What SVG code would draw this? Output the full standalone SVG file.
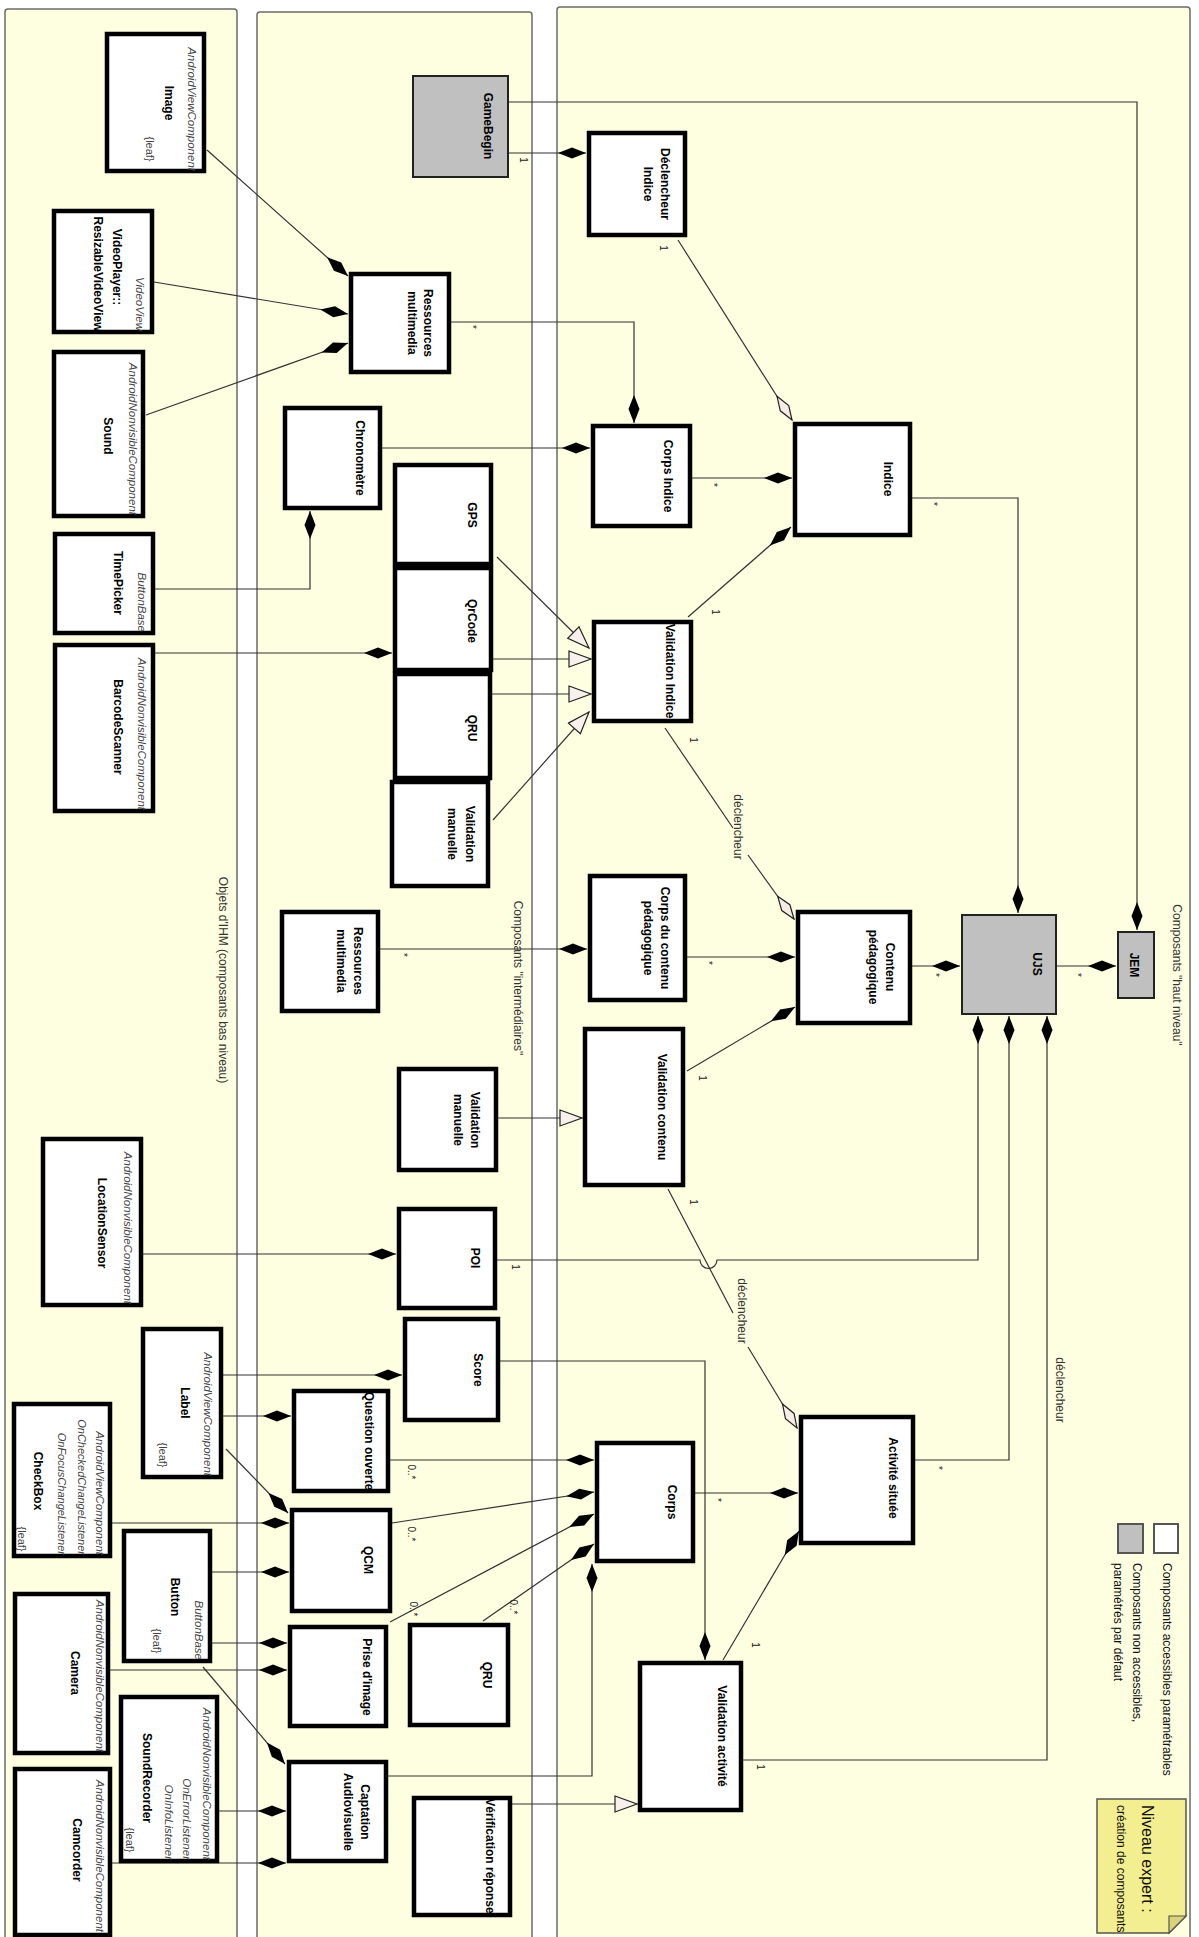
<svg xmlns="http://www.w3.org/2000/svg" width="1199" height="1937" viewBox="0 0 1199 1937">
<style>
.panel{fill:#fefee0;stroke:#6b6b6b;stroke-width:1.5}
.n{fill:#fff;stroke:#000;stroke-width:4.5}
.g{fill:#c0c0c0;stroke:#222;stroke-width:2}
text{font-family:"Liberation Sans",Arial,sans-serif;dominant-baseline:central}
.t{font-size:12px;font-weight:bold;fill:#000;text-anchor:middle}
.st{font-size:11.5px;font-style:italic;fill:#444;text-anchor:end}
.lf{font-size:11px;fill:#444;text-anchor:middle}
.m{font-size:10px;fill:#222;text-anchor:middle}
.pt{font-size:12px;fill:#333;text-anchor:middle}
.lg{font-size:12px;fill:#111;text-anchor:start}
.c{fill:none;stroke:#333;stroke-width:1.2}
.df{marker-end:url(#dF)}
.do{marker-end:url(#dO)}
.tr{marker-end:url(#tri)}
</style>
<defs>
<marker id="dF" viewBox="0 0 28 12" markerWidth="28" markerHeight="12" refX="28" refY="6" orient="auto" markerUnits="userSpaceOnUse"><path d="M0,6 L14,0.5 L28,6 L14,11.5 Z" fill="#000"/></marker>
<marker id="dO" viewBox="-1 -1 30 14" markerWidth="30" markerHeight="14" refX="28" refY="6" orient="auto" markerUnits="userSpaceOnUse"><path d="M0,6 L14,1 L28,6 L14,11 Z" fill="#f6ece6" stroke="#222" stroke-width="1.2"/></marker>
<marker id="tri" viewBox="-1 -1 25 19" markerWidth="25" markerHeight="19" refX="22" refY="8" orient="auto" markerUnits="userSpaceOnUse"><path d="M0,0 L22,8 L0,16 Z" fill="#f8f0ea" stroke="#222" stroke-width="1.2"/></marker>
</defs>
<rect width="1199" height="1937" fill="#fff"/>
<g id="panels">
<rect class="panel" x="5" y="9" width="232" height="1940" rx="3"/>
<rect class="panel" x="257" y="12" width="275" height="1940" rx="3"/>
<rect class="panel" x="557" y="7" width="633" height="1940" rx="3"/>
<text class="pt" transform="translate(223,980) rotate(90)">Objets d'IHM (composants bas niveau)</text>
<text class="pt" transform="translate(518,978) rotate(90)">Composants "intermédiaires"</text>
<text class="pt" transform="translate(1177,975) rotate(90)">Composants "haut niveau"</text>
</g>
<g id="connectors">
<path class="c df" d="M207,150 L348,276"/>
<path class="c df" d="M154,282 L348,314"/>
<path class="c df" d="M146,415 L348,343"/>
<path class="c df" d="M451,322 H634 V423"/>
<path class="c df" d="M509,153 H586"/>
<path class="c df" d="M509,102 H1137 V930"/>
<path class="c do" d="M678,240 L792,420"/>
<path class="c df" d="M692,478 H792"/>
<path class="c df" d="M382,448 H590"/>
<path class="c df" d="M155,589 H310 V511"/>
<path class="c df" d="M155,653 H392"/>
<path class="c tr" d="M497,557 L589,648"/>
<path class="c tr" d="M492,659 H591"/>
<path class="c tr" d="M492,694 H591"/>
<path class="c tr" d="M493,820 L589,712"/>
<path class="c df" d="M688,617 L791,527"/>
<path class="c" d="M665,728 L733,828"/>
<path class="c do" d="M748,855 L794,919"/>
<path class="c df" d="M687,957 H795"/>
<path class="c df" d="M380,949 H587"/>
<path class="c df" d="M912,966 H960"/>
<path class="c df" d="M1057,966 H1116"/>
<path class="c df" d="M912,498 H1018 V913"/>
<path class="c tr" d="M498,1118 H582"/>
<path class="c df" d="M687,1071 L795,1007"/>
<path class="c" d="M668,1189 L733,1313"/>
<path class="c do" d="M748,1347 L797,1428"/>
<path class="c df" d="M497,1260 H700 A8.5,8.5 0 0 0 717,1260 H978 V1016"/>
<path class="c df" d="M915,1460 H1009 V1016"/>
<path class="c df" d="M743,1760 H1047 V1016"/>
<path class="c df" d="M143,1254 H396"/>
<path class="c df" d="M223,1375 H402"/>
<path class="c df" d="M223,1416 H291"/>
<path class="c df" d="M226,1449 L288,1513"/>
<path class="c df" d="M112,1523 H289"/>
<path class="c df" d="M212,1572 H289"/>
<path class="c df" d="M212,1643 H287"/>
<path class="c df" d="M110,1670 H287"/>
<path class="c df" d="M203,1667 L285,1764"/>
<path class="c df" d="M219,1811 H286"/>
<path class="c df" d="M112,1863 H286"/>
<path class="c df" d="M390,1460 H594"/>
<path class="c df" d="M392,1523 L594,1492"/>
<path class="c df" d="M390,1622 L594,1514"/>
<path class="c df" d="M483,1621 L594,1544"/>
<path class="c df" d="M500,1361 H705 V1660"/>
<path class="c df" d="M388,1776 H592 V1564"/>
<path class="c df" d="M695,1493 H798"/>
<path class="c df" d="M723,1660 L799,1531"/>
<path class="c tr" d="M512,1804 H637"/>
<text class="m" transform="translate(523,160) rotate(90)">1</text>
<text class="m" transform="translate(472,327) rotate(90)">*</text>
<text class="m" transform="translate(663,248) rotate(90)">1</text>
<text class="m" transform="translate(713,485) rotate(90)">*</text>
<text class="m" transform="translate(933,504) rotate(90)">*</text>
<text class="m" transform="translate(715,612) rotate(90)">1</text>
<text class="m" transform="translate(693,740) rotate(90)">1</text>
<text class="pt" transform="translate(738,827) rotate(90)">déclencheur</text>
<text class="m" transform="translate(708,963) rotate(90)">*</text>
<text class="m" transform="translate(403,955) rotate(90)">*</text>
<text class="m" transform="translate(935,975) rotate(90)">*</text>
<text class="m" transform="translate(1077,975) rotate(90)">*</text>
<text class="m" transform="translate(702,1078) rotate(90)">1</text>
<text class="m" transform="translate(693,1202) rotate(90)">1</text>
<text class="pt" transform="translate(742,1311) rotate(90)">déclencheur</text>
<text class="m" transform="translate(515,1267) rotate(90)">1</text>
<text class="m" transform="translate(938,1468) rotate(90)">*</text>
<text class="m" transform="translate(760,1767) rotate(90)">1</text>
<text class="pt" transform="translate(1060,1390) rotate(90)">déclencheur</text>
<text class="m" transform="translate(411,1472) rotate(90)">0..*</text>
<text class="m" transform="translate(411,1534) rotate(90)">0..*</text>
<text class="m" transform="translate(413,1609) rotate(90)">0..*</text>
<text class="m" transform="translate(513,1607) rotate(90)">0..*</text>
<text class="m" transform="translate(717,1500) rotate(90)">*</text>
<text class="m" transform="translate(755,1645) rotate(90)">1</text>
</g>
<g id="n-image"><rect class="n" x="107" y="34" width="97" height="137"/>
<text class="st" transform="translate(192,171) rotate(90)">AndroidViewComponent</text>
<text class="t" transform="translate(169,103) rotate(90)">Image</text>
<text class="lf" transform="translate(150,149) rotate(90)">{leaf}</text></g>
<g id="n-videoplayer"><rect class="n" x="54" y="211" width="98" height="121"/>
<text class="st" transform="translate(140,331) rotate(90)">VideoView</text>
<text class="t" transform="translate(117,267) rotate(90)">VideoPlayer::</text>
<text class="t" transform="translate(98,274) rotate(90)">ResizableVideoView</text></g>
<g id="n-sound"><rect class="n" x="54" y="352" width="89" height="164"/>
<text class="st" transform="translate(133,515) rotate(90)">AndroidNonvisibleComponent</text>
<text class="t" transform="translate(108,436) rotate(90)">Sound</text></g>
<g id="n-timepicker"><rect class="n" x="55" y="534" width="98" height="99"/>
<text class="st" transform="translate(142,632) rotate(90)">ButtonBase</text>
<text class="t" transform="translate(118,583) rotate(90)">TimePicker</text></g>
<g id="n-barcode"><rect class="n" x="55" y="645" width="98" height="166"/>
<text class="st" transform="translate(142,810) rotate(90)">AndroidNonvisibleComponent</text>
<text class="t" transform="translate(118,727) rotate(90)">BarcodeScanner</text></g>
<g id="n-location"><rect class="n" x="43" y="1139" width="98" height="166"/>
<text class="st" transform="translate(128,1304) rotate(90)">AndroidNonvisibleComponent</text>
<text class="t" transform="translate(102,1223) rotate(90)">LocationSensor</text></g>
<g id="n-label"><rect class="n" x="143" y="1329" width="78" height="148"/>
<text class="st" transform="translate(208,1476) rotate(90)">AndroidViewComponent</text>
<text class="t" transform="translate(185,1403) rotate(90)">Label</text>
<text class="lf" transform="translate(163,1455) rotate(90)">{leaf}</text></g>
<g id="n-checkbox"><rect class="n" x="14" y="1404" width="96" height="152"/>
<text class="st" transform="translate(100,1555) rotate(90)">AndroidViewComponent</text>
<text class="st" style="font-size:11px" transform="translate(82,1555) rotate(90)">OnCheckedChangeListener</text>
<text class="st" style="font-size:11px" transform="translate(62,1555) rotate(90)">OnFocusChangeListener</text>
<text class="t" transform="translate(38,1481) rotate(90)">CheckBox</text>
<text class="lf" transform="translate(22,1539) rotate(90)">{leaf}</text></g>
<g id="n-button"><rect class="n" x="124" y="1531" width="86" height="130"/>
<text class="st" transform="translate(199,1660) rotate(90)">ButtonBase</text>
<text class="t" transform="translate(175,1597) rotate(90)">Button</text>
<text class="lf" transform="translate(157,1641) rotate(90)">{leaf}</text></g>
<g id="n-camera"><rect class="n" x="15" y="1594" width="93" height="159"/>
<text class="st" transform="translate(100,1752) rotate(90)">AndroidNonvisibleComponent</text>
<text class="t" transform="translate(75,1673) rotate(90)">Camera</text></g>
<g id="n-soundrecorder"><rect class="n" x="121" y="1697" width="96" height="164"/>
<text class="st" transform="translate(207,1860) rotate(90)">AndroidNonvisibleComponent</text>
<text class="st" transform="translate(187,1860) rotate(90)">OnErrorListener</text>
<text class="st" transform="translate(169,1860) rotate(90)">OnInfoListener</text>
<text class="t" transform="translate(147,1778) rotate(90)">SoundRecorder</text>
<text class="lf" transform="translate(130,1840) rotate(90)">{leaf}</text></g>
<g id="n-camcorder"><rect class="n" x="15" y="1769" width="95" height="166"/>
<text class="st" transform="translate(100,1932) rotate(90)">AndroidNonvisibleComponent</text>
<text class="t" transform="translate(77,1850) rotate(90)">Camcorder</text></g>
<g id="n-ress1"><rect class="n" x="351" y="274" width="98" height="98"/>
<text class="t" transform="translate(428,323) rotate(90)">Ressources</text>
<text class="t" transform="translate(412,323) rotate(90)">multimedia</text></g>
<g id="n-chrono"><rect class="n" x="285" y="408" width="95" height="100"/>
<text class="t" transform="translate(360,458) rotate(90)">Chronomètre</text></g>
<g id="n-gps"><rect class="n" x="395" y="465" width="96" height="99"/>
<text class="t" transform="translate(472,515) rotate(90)">GPS</text></g>
<g id="n-qrcode"><rect class="n" x="395" y="568" width="96" height="102"/>
<text class="t" transform="translate(472,621) rotate(90)">QrCode</text></g>
<g id="n-qru1"><rect class="n" x="395" y="674" width="95" height="104"/>
<text class="t" transform="translate(472,728) rotate(90)">QRU</text></g>
<g id="n-valman1"><rect class="n" x="392" y="782" width="96" height="104"/>
<text class="t" transform="translate(470,834) rotate(90)">Validation</text>
<text class="t" transform="translate(452,834) rotate(90)">manuelle</text></g>
<g id="n-ress2"><rect class="n" x="282" y="912" width="96" height="99"/>
<text class="t" transform="translate(358,961) rotate(90)">Ressources</text>
<text class="t" transform="translate(341,961) rotate(90)">multimedia</text></g>
<g id="n-valman2"><rect class="n" x="399" y="1069" width="97" height="101"/>
<text class="t" transform="translate(475,1120) rotate(90)">Validation</text>
<text class="t" transform="translate(458,1120) rotate(90)">manuelle</text></g>
<g id="n-poi"><rect class="n" x="399" y="1209" width="96" height="99"/>
<text class="t" transform="translate(475,1258) rotate(90)">POI</text></g>
<g id="n-score"><rect class="n" x="405" y="1319" width="93" height="101"/>
<text class="t" transform="translate(478,1370) rotate(90)">Score</text></g>
<g id="n-qouverte"><rect class="n" x="294" y="1391" width="94" height="100"/>
<text class="t" transform="translate(369,1441) rotate(90)">Question ouverte</text></g>
<g id="n-qcm"><rect class="n" x="292" y="1510" width="98" height="101"/>
<text class="t" transform="translate(368,1560) rotate(90)">QCM</text></g>
<g id="n-prise"><rect class="n" x="290" y="1627" width="96" height="99"/>
<text class="t" transform="translate(367,1677) rotate(90)">Prise d'image</text></g>
<g id="n-captation"><rect class="n" x="289" y="1762" width="97" height="99"/>
<text class="t" transform="translate(365,1812) rotate(90)">Captation</text>
<text class="t" transform="translate(348,1812) rotate(90)">Audiovisuelle</text></g>
<g id="n-qru2"><rect class="n" x="410" y="1625" width="98" height="100"/>
<text class="t" transform="translate(487,1675) rotate(90)">QRU</text></g>
<g id="n-verif"><rect class="n" x="414" y="1798" width="96" height="117"/>
<text class="t" transform="translate(490,1856) rotate(90)">Vérification réponse</text></g>
<g id="n-gamebegin"><rect class="g" x="413" y="76" width="95" height="101"/>
<text class="t" transform="translate(488,126) rotate(90)">GameBegin</text></g>
<g id="n-declindice"><rect class="n" x="589" y="133" width="96" height="102"/>
<text class="t" transform="translate(665,184) rotate(90)">Déclencheur</text>
<text class="t" transform="translate(648,184) rotate(90)">Indice</text></g>
<g id="n-corpsindice"><rect class="n" x="593" y="426" width="97" height="100"/>
<text class="t" transform="translate(668,476) rotate(90)">Corps Indice</text></g>
<g id="n-indice"><rect class="n" x="795" y="424" width="115" height="111"/>
<text class="t" transform="translate(888,479) rotate(90)">Indice</text></g>
<g id="n-valindice"><rect class="n" x="594" y="622" width="97" height="99"/>
<text class="t" transform="translate(670,671) rotate(90)">Validation Indice</text></g>
<g id="n-corpscontenu"><rect class="n" x="590" y="876" width="95" height="124"/>
<text class="t" transform="translate(665,938) rotate(90)">Corps du contenu</text>
<text class="t" transform="translate(648,938) rotate(90)">pédagogique</text></g>
<g id="n-contenu"><rect class="n" x="798" y="912" width="112" height="111"/>
<text class="t" transform="translate(890,967) rotate(90)">Contenu</text>
<text class="t" transform="translate(873,967) rotate(90)">pédagogique</text></g>
<g id="n-ujs"><rect class="g" x="962" y="915" width="94" height="99"/>
<text class="t" transform="translate(1037,964) rotate(90)">UJS</text></g>
<g id="n-jem"><rect class="g" x="1118" y="932" width="36" height="66"/>
<text class="t" transform="translate(1134,965) rotate(90)">JEM</text></g>
<g id="n-valcontenu"><rect class="n" x="585" y="1029" width="98" height="156"/>
<text class="t" transform="translate(662,1107) rotate(90)">Validation contenu</text></g>
<g id="n-activite"><rect class="n" x="801" y="1417" width="112" height="126"/>
<text class="t" transform="translate(893,1478) rotate(90)">Activité située</text></g>
<g id="n-corps"><rect class="n" x="597" y="1443" width="96" height="118"/>
<text class="t" transform="translate(672,1502) rotate(90)">Corps</text></g>
<g id="n-valactivite"><rect class="n" x="640" y="1663" width="101" height="147"/>
<text class="t" transform="translate(722,1736) rotate(90)">Validation activité</text></g>
<g id="legend">
<rect x="1154" y="1524" width="24" height="29" fill="#fff" stroke="#555" stroke-width="2"/>
<rect x="1118" y="1524" width="25" height="29" fill="#c0c0c0" stroke="#555" stroke-width="2"/>
<text class="lg" transform="translate(1167,1563) rotate(90)">Composants accessibles paramétrables</text>
<text class="lg" transform="translate(1137,1563) rotate(90)">Composants non accessibles,</text>
<text class="lg" transform="translate(1118,1563) rotate(90)">paramétrés par défaut</text>
</g>
<g id="note">
<path d="M1097,1799 H1186 V1916 L1169,1933 H1097 Z" fill="#f3ee8f" stroke="#555" stroke-width="1.5"/>
<path d="M1186,1916 H1169 V1933 Z" fill="#d9d47a" stroke="#555" stroke-width="1.2"/>
<text class="lg" style="font-size:16px" transform="translate(1147,1805) rotate(90)">Niveau expert :</text>
<text class="lg" transform="translate(1121,1805) rotate(90)">création de composants</text>
</g>
</svg>
